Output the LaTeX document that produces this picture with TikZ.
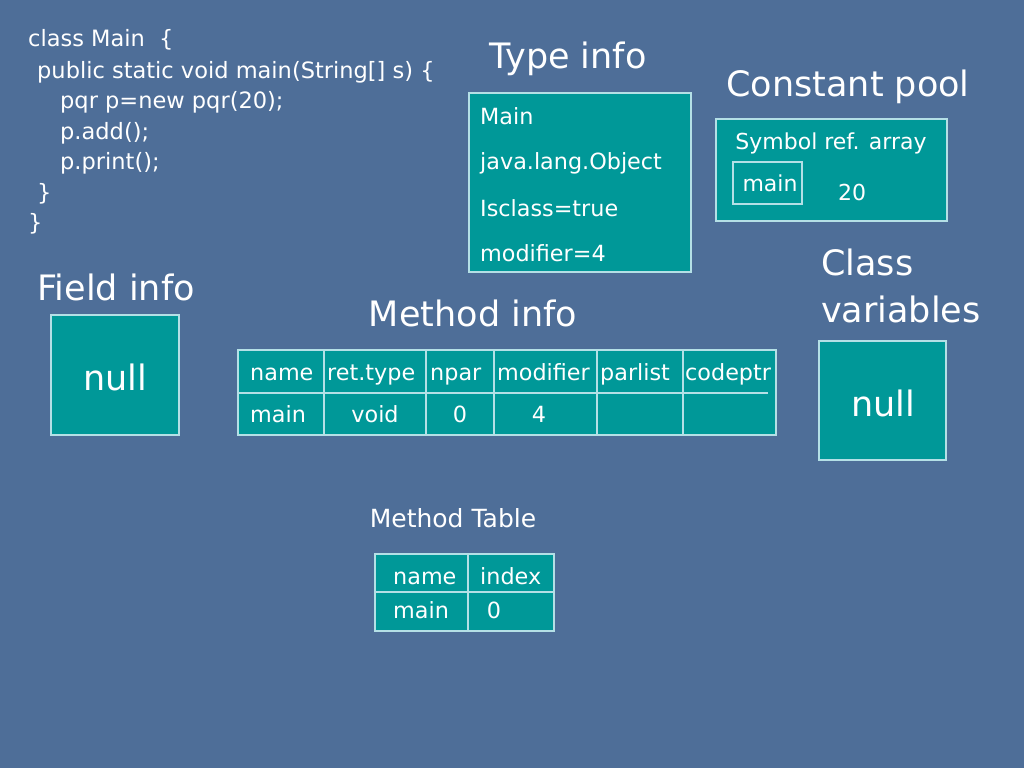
\documentclass[tikz,border=0pt]{standalone}
\usepackage{fontspec}
\setmainfont{DejaVu Sans}
\begin{document}
\begin{tikzpicture}[x=1pt,y=-1pt,
  bx/.style={draw=bordc,line width=1.3pt,fill=tealc},
  ln/.style={draw=bordc,line width=1.1pt},
  title/.style={text=white,font=\fontsize{35}{40}\selectfont,inner sep=0pt},
  txt/.style={text=white,font=\fontsize{22.3}{26}\selectfont,inner sep=0pt},
  code/.style={text=white,font=\fontsize{22.5}{26}\selectfont,inner sep=0pt,anchor=base west},
]
\definecolor{bg}{HTML}{4E6E98}
\definecolor{tealc}{HTML}{009898}
\definecolor{bordc}{HTML}{B4E0E6}
\fill[bg] (0,0) rectangle (1024,768);
\useasboundingbox (0,0) rectangle (1024,768);

% code
\node[code] (c1) at (28,47) {class Main~~\{};
\node[code] (c2) at (37,78) {public static void main(String[] s) \{};
\node[code] (c3) at (60,108) {pqr p=new pqr(20);};
\node[code] (c4) at (60,139) {p.add();};
\node[code] (c5) at (60,169) {p.print();};
\node[code] (c6) at (37,200) {\}};
\node[code] (c7) at (28,230) {\}};

% Type info
\node[title,anchor=base] (tit) at (568,68) {Type info};
\path[bx] (469,93) rectangle (691,272);
\node[txt,anchor=base west] (t1) at (480,124) {Main};
\node[txt,anchor=base west] (t2) at (480,169) {java.lang.Object};
\node[txt,anchor=base west] (t3) at (480,216) {Isclass=true};
\node[txt,anchor=base west] (t4) at (480,261) {modifier=4};

% Constant pool
\node[title,anchor=base] (cpt) at (848,96) {Constant pool};
\path[bx] (716,119) rectangle (947,221);
\node[txt,anchor=base,font=\fontsize{22}{26}\selectfont] (sra) at (831,149) {Symbol ref. array};
\path[ln] (733,162) rectangle (802,204);
\node[txt,anchor=base,font=\fontsize{22}{26}\selectfont] (cpm) at (770,191) {main};
\node[txt,anchor=base,font=\fontsize{22}{26}\selectfont] (cp20) at (852,200) {20};

% Class variables
\node[title,anchor=base west] (cv1) at (821,275) {Class};
\node[title,anchor=base west] (cv2) at (821,322) {variables};
\path[bx] (819,341) rectangle (946,460);
\node[title,anchor=base] (cvn) at (883,416) {null};

% Field info
\node[title,anchor=base] (fit) at (116,300) {Field info};
\path[bx] (51,315) rectangle (179,435);
\node[title,anchor=base] (fin) at (115,390) {null};

% Method info
\node[title,anchor=base] (mit) at (473,326) {Method info};
\path[bx] (238,350) rectangle (776,435);
\draw[ln] (238,393) -- (768,393);
\foreach \xx in {324,426,494,597,683} \draw[ln] (\xx,350) -- (\xx,435);
\node[txt,anchor=base west] (h1) at (250,380) {name};
\node[txt,anchor=base west] (h2) at (327,380) {ret.type};
\node[txt,anchor=base west] (h3) at (430,380) {npar};
\node[txt,anchor=base west] (h4) at (497,380) {modifier};
\node[txt,anchor=base west] (h5) at (600,380) {parlist};
\node[txt,anchor=base west] (h6) at (685,380) {codeptr};
\node[txt,anchor=base west] (r1) at (250,422) {main};
\node[txt,anchor=base] (r2) at (375,422) {void};
\node[txt,anchor=base] (r3) at (460,422) {0};
\node[txt,anchor=base] (r4) at (539,422) {4};

% Method Table
\node[txt,anchor=base,font=\fontsize{25}{29}\selectfont] (mtt) at (453,527) {Method Table};
\path[bx] (375,554) rectangle (554,631);
\draw[ln] (375,592) -- (554,592);
\draw[ln] (468,554) -- (468,631);
\node[txt,anchor=base west] (m1) at (393,584) {name};
\node[txt,anchor=base west] (m2) at (480,584) {index};
\node[txt,anchor=base west] (m3) at (393,618) {main};
\node[txt,anchor=base] (m4) at (494,618) {0};
\end{tikzpicture}
\end{document}
